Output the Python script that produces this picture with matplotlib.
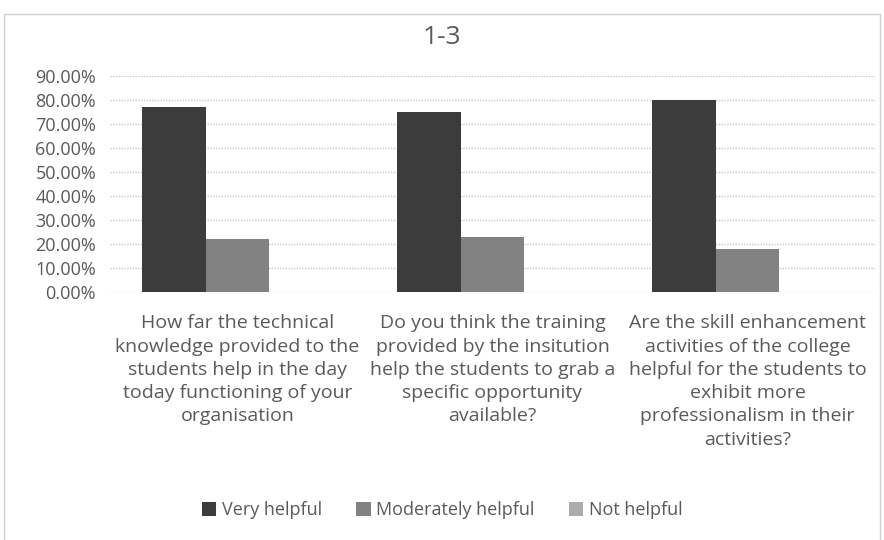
import numpy as np
import matplotlib.pyplot as plt
from matplotlib.patches import Rectangle

plt.rcParams['font.family'] = ['Open Sans', 'DejaVu Sans']

# question labels (wrapped as in the chart)
questions = [
    "How far the technical\nknowledge provided to the\nstudents help in the day\ntoday functioning of your\norganisation",
    "Do you think the training\nprovided by the insitution\nhelp the students to grab a\nspecific opportunity\navailable?",
    "Are the skill enhancement\nactivities of the college\nhelpful for the students to\nexhibit more\nprofessionalism in their\nactivities?",
]
series = ["Very helpful", "Moderately helpful", "Not helpful"]
very_helpful = [0.77, 0.75, 0.80]
moderately_helpful = [0.22, 0.23, 0.18]
not_helpful = [0.0, 0.0, 0.0]
yticks = [0.0, 0.1, 0.2, 0.3, 0.4, 0.5, 0.6, 0.7, 0.8, 0.9]

colours = ["#3c3c3c", "#828282", "#ababab"]
txt = "#5a5a5a"

fig = plt.figure(figsize=(8.84, 5.40), dpi=100)
ax = fig.add_axes([0.1244, 0.4593, 0.8654, 0.40])

x = np.arange(len(questions))
w = 0.25
for i, vals in enumerate([very_helpful, moderately_helpful, not_helpful]):
    ax.bar(x + (i - 1) * w, vals, w, color=colours[i], label=series[i], zorder=3)

ax.set_xlim(-0.5, 2.5)
ax.set_ylim(0, 0.9)
ax.set_yticks(yticks)
ax.set_yticklabels([f"{v*100:.2f}%" for v in yticks], fontsize=13, color=txt)
ax.set_xticks(x)
ax.set_xticklabels(questions, fontsize=14, color=txt, linespacing=1.38, va="top")
ax.tick_params(axis="both", length=0)
ax.tick_params(axis="x", pad=16)
ax.tick_params(axis="y", pad=10)
ax.grid(axis="y", color="#c8c8c8", linewidth=1, linestyle=(0, (1, 1)), zorder=0)
for s in ax.spines.values():
    s.set_visible(False)

fig.text(0.5, 1 - 38 / 540, "1-3", ha="center", va="center", fontsize=19, color=txt)

ax.legend(loc="center", bbox_to_anchor=(0.5, 1 - 510 / 540), bbox_transform=fig.transFigure,
          ncol=3, frameon=False, fontsize=13, labelcolor=txt, handlelength=0.8,
          handleheight=0.8, handletextpad=0.3, columnspacing=1.9)

fig.patches.append(Rectangle((0.004, -0.01), 0.992, 0.985, transform=fig.transFigure,
                             fill=False, edgecolor="#cfcfcf", linewidth=1))

fig.savefig("out.png", dpi=100)
